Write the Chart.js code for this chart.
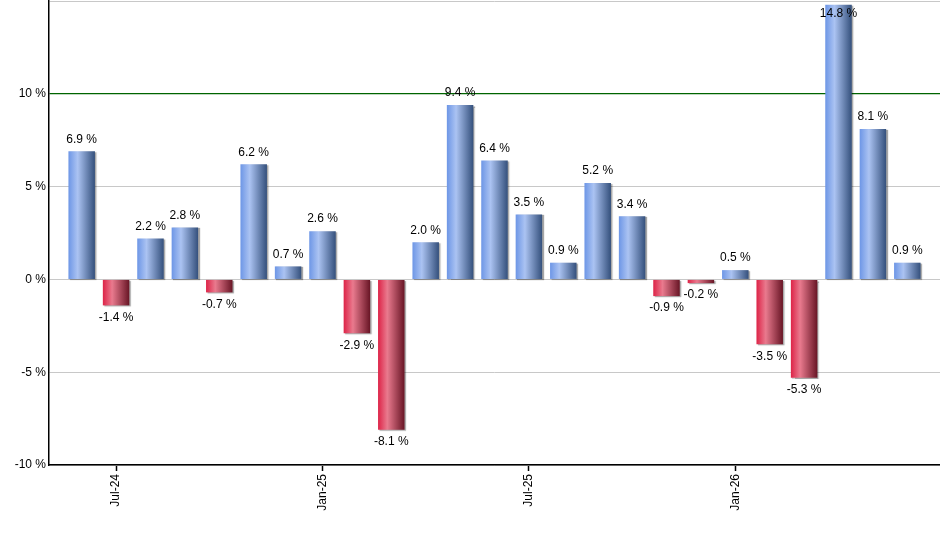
<!DOCTYPE html>
<html>
<head>
<meta charset="utf-8">
<script src="https://cdn.jsdelivr.net/npm/chart.js@4"></script>
<style>
  html, body { margin: 0; padding: 0; background: #fff; }
  #wrap { width: 940px; height: 550px; }
</style>
</head>
<body>
<div id="wrap"><canvas id="perfChart" width="940" height="550"></canvas></div>
<script>
// monthly returns, Jun-24 .. Jun-26
var months = ['Jun-24','Jul-24','Aug-24','Sep-24','Oct-24','Nov-24','Dec-24',
              'Jan-25','Feb-25','Mar-25','Apr-25','May-25','Jun-25',
              'Jul-25','Aug-25','Sep-25','Oct-25','Nov-25','Dec-25',
              'Jan-26','Feb-26','Mar-26','Apr-26','May-26','Jun-26'];
var returns = [6.9, -1.4, 2.2, 2.8, -0.7, 6.2, 0.7,
               2.6, -2.9, -8.1, 2.0, 9.4, 6.4,
               3.5, 0.9, 5.2, 3.4, -0.9, -0.2,
               0.5, -3.5, -5.3, 14.8, 8.1, 0.9];
var tickMonths = ['Jul-24', 'Jan-25', 'Jul-25', 'Jan-26'];
var yTicks = [-10, -5, 0, 5, 10, 15];

var FONT = '"Liberation Sans", Arial, sans-serif';

var puntos = returns.map(function(v, i) { return { x: i, y: v }; });

// gradiente horizontal por barra
var gradientePlugin = {
    id: 'gradiente',
    beforeDatasetsDraw: function(chart) {
        var ctx = chart.ctx;
        chart.getDatasetMeta(0).data.forEach(function(bar, i) {
            var x0 = bar.x - bar.width / 2, x1 = bar.x + bar.width / 2;
            var g = ctx.createLinearGradient(x0, 0, x1, 0);
            if (returns[i] >= 0) {
                g.addColorStop(0, '#6d96e6');
                g.addColorStop(0.35, '#abc3f2');
                g.addColorStop(1, '#34507c');
            } else {
                g.addColorStop(0, '#dd2347');
                g.addColorStop(0.35, '#e97a8e');
                g.addColorStop(1, '#681525');
            }
            bar.options.backgroundColor = g;
        });
    },
    beforeDatasetDraw: function(chart) {
        var ctx = chart.ctx;
        ctx.save();
        ctx.shadowColor = 'rgba(0,0,0,0.35)';
        ctx.shadowOffsetX = 1.5;
        ctx.shadowOffsetY = 1;
        ctx.shadowBlur = 1;
    },
    afterDatasetDraw: function(chart) {
        chart.ctx.restore();
    }
};

// etiquetas de valor
var etiquetasPlugin = {
    id: 'etiquetas',
    afterDatasetsDraw: function(chart) {
        var ctx = chart.ctx;
        ctx.save();
        ctx.font = '12px ' + FONT;
        ctx.fillStyle = '#000';
        ctx.textAlign = 'center';
        chart.getDatasetMeta(0).data.forEach(function(bar, i) {
            var v = returns[i];
            var txt = v.toFixed(1) + ' %';
            if (v >= 0) {
                ctx.textBaseline = 'bottom';
                ctx.fillText(txt, bar.x, Math.max(bar.y - 6, chart.chartArea.top + 19));
            } else {
                ctx.textBaseline = 'top';
                ctx.fillText(txt, bar.x, bar.y + 6);
            }
        });
        ctx.restore();
    }
};

var ctx = document.getElementById('perfChart').getContext('2d');
var perfChart = new Chart(ctx, {
    type: 'bar',
    data: {
        datasets: [{
            data: puntos,
            backgroundColor: function(c) { return returns[c.dataIndex] >= 0 ? '#6d96e6' : '#dd2347'; },
            borderWidth: 0,
            categoryPercentage: 1,
            barPercentage: 0.77
        }]
    },
    options: {
        responsive: false,
        animation: false,
        layout: { padding: { top: 1, right: 0, left: 0, bottom: 0 } },
        plugins: {
            legend: { display: false },
            tooltip: { enabled: false }
        },
        scales: {
            x: {
                type: 'linear',
                offset: false,
                min: -0.95,
                max: 24.95,
                afterBuildTicks: function(scale) {
                    scale.ticks = tickMonths.map(function(m) { return { value: months.indexOf(m) }; });
                },
                afterFit: function(scale) {
                    scale.height = 85;
                    scale.paddingLeft = 0;
                    scale.paddingRight = 0;
                },
                ticks: {
                    autoSkip: false,
                    minRotation: 90,
                    maxRotation: 90,
                    padding: 3,
                    color: '#000',
                    font: { family: FONT, size: 12 },
                    callback: function(v) { return months[v]; }
                },
                grid: {
                    offset: false,
                    drawOnChartArea: false,
                    drawTicks: true,
                    tickLength: 6,
                    tickColor: '#000',
                    tickWidth: 1.5
                },
                border: { color: '#000', width: 1.5 }
            },
            y: {
                min: -10,
                max: 15,
                afterBuildTicks: function(scale) {
                    scale.ticks = yTicks.map(function(v) { return { value: v }; });
                },
                afterFit: function(scale) {
                    scale.width = 49;
                    scale.paddingTop = 0;
                    scale.paddingBottom = 0;
                },
                ticks: {
                    padding: 3,
                    color: '#000',
                    font: { family: FONT, size: 12 },
                    callback: function(v) { return v === 15 ? '' : v + ' %'; }
                },
                grid: {
                    drawTicks: false,
                    color: function(c) { return c.tick && c.tick.value === 10 ? '#006400' : '#c8c8c8'; },
                    lineWidth: function(c) { return c.tick && c.tick.value === 10 ? 1.2 : 1; }
                },
                border: { color: '#000', width: 1.5 }
            }
        }
    },
    plugins: [gradientePlugin, etiquetasPlugin]
});
</script>
</body>
</html>
